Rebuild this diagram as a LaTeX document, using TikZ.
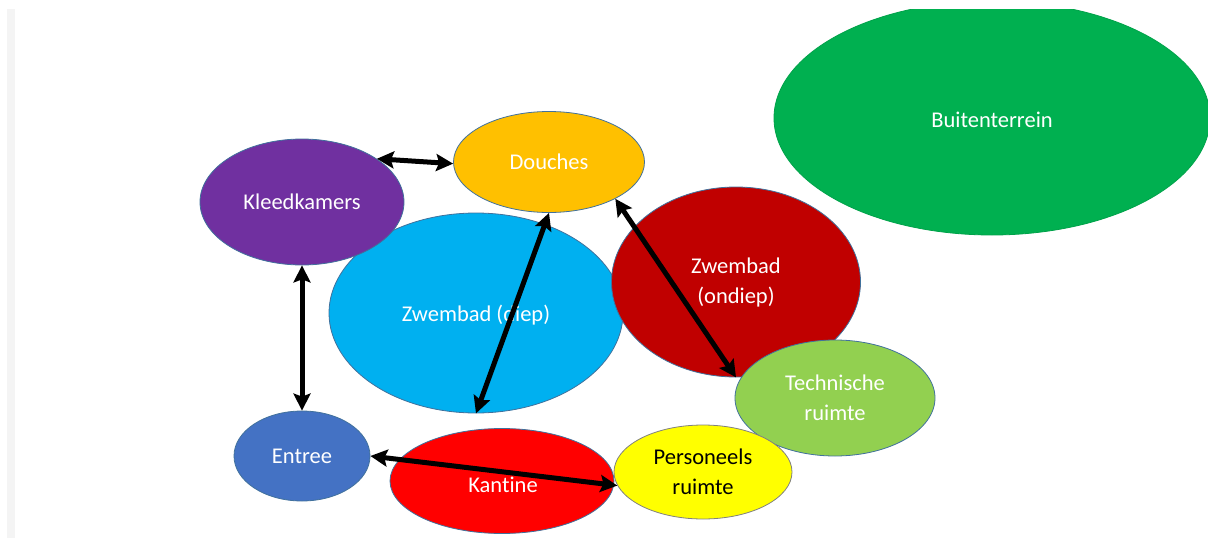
\documentclass[tikz,border=0pt]{standalone}
\usepackage{fontspec}
\setmainfont{Carlito}[Ligatures=NoCommon]
\usetikzlibrary{shapes.geometric,arrows.meta}
\definecolor{cBuiten}{HTML}{00B050}
\definecolor{cKleed}{HTML}{7030A0}
\definecolor{cDouche}{HTML}{FFC000}
\definecolor{cDiep}{HTML}{00B0F0}
\definecolor{cOndiep}{HTML}{C00000}
\definecolor{cTech}{HTML}{92D050}
\definecolor{cEntree}{HTML}{4472C4}
\definecolor{cKantine}{HTML}{FF0000}
\definecolor{cPers}{HTML}{FFFF00}
\definecolor{cOutline}{HTML}{41719C}
\definecolor{cEdge}{HTML}{F4F4F4}
\begin{document}
\begin{tikzpicture}[x=1pt,y=-1pt,
  lbl/.style={text=white, align=center, font=\fontsize{22.5}{30}\selectfont},
  room/.style={ellipse, draw=cOutline, line width=0.8pt, inner sep=0pt, lbl},
  conn/.style={{Stealth[length=17pt,width=17pt,inset=3pt]}-{Stealth[length=17pt,width=17pt,inset=3pt]},
    line width=5pt, black}]
\useasboundingbox (0,0) rectangle (1208,538);
\fill[cEdge] (7,9) rectangle (15,538);
\begin{scope}
\clip (0,9) rectangle (1208,538);
\node[room, fill=cBuiten, draw=cBuiten!92!black, minimum width=436pt, minimum height=234pt] (buiten) at (992,118) {};
\end{scope}
\node[lbl] (buitenlbl) at (992,120) {Buitenterrein};
\node[room, fill=cDiep, minimum width=294pt, minimum height=200pt] (diep) at (476,313) {};
\node[lbl] (dieplbl) at (476,315) {Zwembad (diep)};
\node[room, fill=cKleed, minimum width=204pt, minimum height=126pt] (kleed) at (302,202) {Kleedkamers};
\node[room, fill=cDouche, minimum width=191pt, minimum height=101pt] (douche) at (549,162) {Douches};
\node[room, fill=cOndiep, minimum width=249pt, minimum height=190pt] (ondiep) at (736,282) {Zwembad\\(ondiep)};
\node[room, fill=cTech, minimum width=200pt, minimum height=116pt] (tech) at (835,398) {Technische\\ruimte};
\node[room, fill=cEntree, minimum width=136pt, minimum height=90pt] (entree) at (302,456) {Entree};
\node[room, fill=cKantine, minimum width=224pt, minimum height=105pt] (kantine) at (502,481) {};
\node[lbl] (kantinelbl) at (503,485) {Kantine};
\node[room, fill=cPers, draw=gray, text=black, minimum width=178pt, minimum height=94pt] (pers) at (703,472) {Personeels\\ruimte};
\draw[conn] (kleed.30) -- (douche.181);
\draw[conn] (kleed.south) -- (entree.north);
\draw[conn] (douche.south) -- (diep.south);
\draw[conn] (douche.-29) -- (ondiep.south);
\draw[conn] (entree.east) -- (pers.189);
\end{tikzpicture}
\end{document}
